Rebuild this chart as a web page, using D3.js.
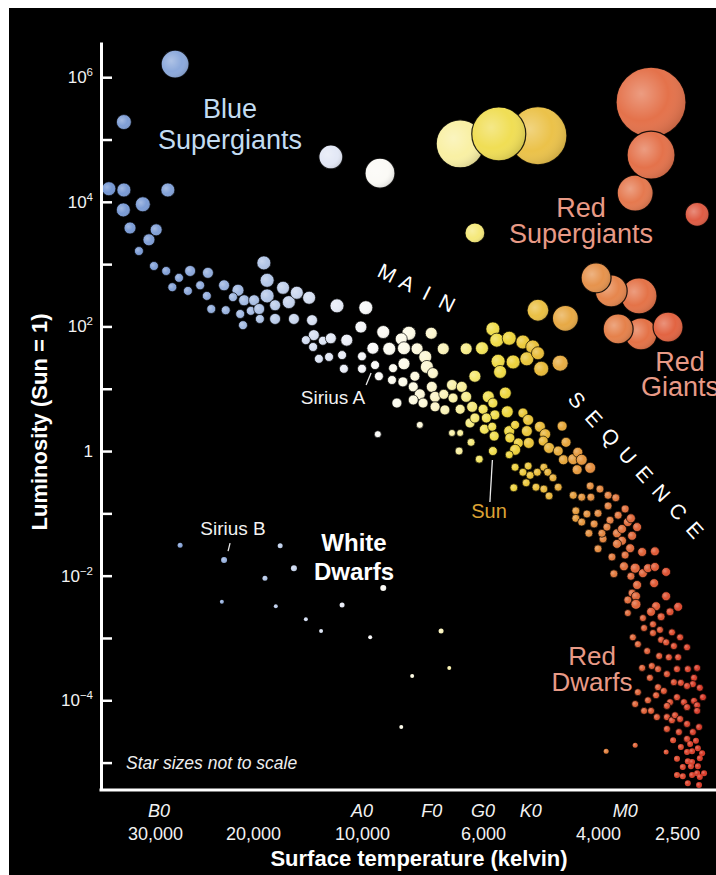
<!DOCTYPE html>
<html>
<head>
<meta charset="utf-8">
<script src="https://cdn.jsdelivr.net/npm/d3@7"></script>
<style>
  html, body { margin: 0; padding: 0; background: #fff; }
  svg { display: block; }
  text { font-family: "Liberation Sans", Arial, Helvetica, sans-serif; }
</style>
</head>
<body>
<svg id="chart" width="716" height="875"></svg>
<script>
// ---------------- data ----------------
// Temperature axis (kelvin) and spectral classes
const tempTicks = [30000, 20000, 10000, 6000, 4000, 2500];
const tempTickLabels = ["30,000", "20,000", "10,000", "6,000", "4,000", "2,500"];
const spectralClasses = ["B0", "A0", "F0", "G0", "K0", "M0"];
const spectralTemps = [29500, 10000, 7450, 6000, 5070, 3400];

// Luminosity axis: decades (exponents of 10), labelled every second one
const lumExponents = [-5, -4, -3, -2, -1, 0, 1, 2, 3, 4, 5, 6];
const lumLabelled = [6, 4, 2, 0, -2, -4];

// Stars: [log10 Teff (K), log10 L/Lsun, relative size]
const hotMainSequence = [
  [4.560,4.21,7],[4.533,4.19,7],[4.454,4.19,7],[4.534,3.87,7],[4.499,3.96,7.5],[4.522,3.58,6],
  [4.475,3.55,6],[4.488,3.39,6],[4.506,3.21,4.5],[4.479,2.97,4.5],[4.457,2.89,4.5],[4.434,2.78,4.5],
  [4.414,2.89,5.5],[4.382,2.86,5.5],[4.446,2.63,4.5],[4.418,2.57,4.5],[4.396,2.66,4.5],[4.384,2.49,4.5],
  [4.353,2.66,5.5],[4.376,2.28,4.5],[4.350,2.26,4.5],[4.328,2.58,6],[4.337,2.47,4.5],[4.317,2.42,5.5],
  [4.324,2.20,4.5],[4.319,2.02,4.5],[4.298,2.42,5.5],[4.305,2.25,4.5],[4.284,2.28,5.5],[4.282,2.12,4.5],
  [4.271,3.02,7],[4.262,2.74,7],[4.262,2.49,7],[4.240,2.34,5.5],[4.240,2.12,5.5],[4.218,2.62,6.5],
  [4.202,2.39,6.5],[4.180,2.54,6.5],[4.188,2.12,5.5],[4.146,2.46,6.5],[4.138,2.10,5.5],[4.133,1.86,5.5],
  [4.155,1.78,4.5],[4.135,1.67,4.5]
];
const midMainSequence = [
  [4.069,2.33,7],[3.993,2.30,7],[4.003,1.99,6],[3.961,1.91,6.5],[3.914,1.89,7],[3.873,1.89,6],
  [3.928,1.80,6],[4.108,1.77,4.5],[4.086,1.81,5.5],[4.042,1.78,6],[4.091,1.51,4.5],[4.119,1.48,4.5],
  [4.055,1.54,4.5],[4.050,1.32,4.5],[4.000,1.52,4.5],[3.980,1.65,6],[3.950,1.64,6.5],[3.923,1.65,6.5],
  [3.899,1.64,6],[3.884,1.51,6.5],[4.000,1.32,4.5],[3.969,1.20,4.5],[3.943,1.33,4.5],
  [3.923,1.40,6],[3.881,1.35,6.5],[3.851,1.64,6],[3.809,1.64,6],[3.780,1.65,6.5],[3.763,1.96,7],
  [3.757,1.78,7],[3.738,1.81,7],[3.717,1.75,7],[3.702,1.67,7],[3.755,1.44,7],[3.732,1.43,7],
  [3.711,1.48,7],[3.752,1.27,6.5],[3.689,1.32,7.5],[3.694,1.57,6.5],[3.945,1.14,4.5],[3.925,1.11,5],
  [3.906,1.03,5],[3.903,1.20,5],[3.870,1.25,5.5],[3.872,1.03,5.5],[3.894,0.91,5.5],[3.866,0.87,5.5],
  [3.850,0.91,5],[3.835,1.06,5.5],[3.817,1.03,5.5],[3.833,0.85,5],[3.809,0.87,5.5],[3.793,1.20,6],
  [3.906,0.82,5],[3.888,0.77,5],[3.866,0.71,5],[3.848,0.66,5],[3.936,0.77,5],[3.820,0.67,5],
  [3.798,0.71,5.5],[3.778,0.67,5],[3.770,0.87,6],[3.744,0.93,6],[3.763,0.77,5],[3.741,0.63,6],
  [3.760,0.58,5],[3.793,0.53,5],[3.773,0.53,5],[3.894,0.42,3.5],[3.971,0.27,3.5],[3.835,0.29,3.5],
  [3.820,0.29,3.5]
];
const coolMainSequence = [
  [3.802,0.45,5],[3.776,0.35,5],[3.764,0.39,4.5],[3.761,0.24,5],[3.800,0.14,4],[3.822,0.00,4],
  [3.785,-0.13,4],[3.738,0.32,5.5],[3.737,0.21,5],[3.729,0.42,4.5],[3.724,0.13,5],[3.729,0.02,5.5],
  [3.738,-0.06,4],[3.717,0.61,5],[3.709,0.50,5.5],[3.711,0.32,5.5],[3.708,0.13,5.5],[3.691,0.39,5.5],
  [3.683,0.27,5.5],[3.686,0.16,5],[3.677,0.05,5.5],[3.663,0.00,5],[3.657,0.40,5],[3.651,0.14,5],
  [3.655,-0.14,5],[3.640,-0.13,5.5],[3.633,-0.02,5],[3.627,-0.14,5.5],[3.634,-0.30,5],[3.614,-0.27,5.5],
  [3.729,-0.26,4],[3.709,-0.24,4],[3.717,-0.34,4],[3.706,-0.39,4],[3.695,-0.34,4],[3.685,-0.26,4],
  [3.679,-0.34,4],[3.671,-0.43,4],[3.712,-0.51,4],[3.697,-0.58,4],[3.685,-0.61,4],[3.677,-0.72,4],
  [3.663,-0.58,4],[3.731,-0.59,4],[3.640,-0.71,4],[3.627,-0.74,4],[3.613,-0.74,4],[3.614,-0.56,4],
  [3.597,-0.61,4],[3.576,-0.71,4],[3.556,-0.75,4],[3.576,-0.88,4],[3.532,-0.93,4],[3.550,-1.03,4],
  [3.571,-1.11,4],[3.636,-0.96,4],[3.636,-1.08,4],[3.627,-1.14,4],[3.619,-1.01,4],[3.602,-1.00,4],
  [3.608,-1.17,4],[3.616,-1.32,4],[3.592,-1.32,4],[3.579,-1.22,4]
];
const redDwarfs = [
  [3.589,-1.41,4],[3.553,-1.32,4.5],[3.540,-1.25,4.5],[3.525,-1.14,4.5],[3.517,-1.08,4.5],[3.501,-1.22,4.5],
  [3.514,-1.36,4.5],[3.540,-1.44,4.5],[3.553,-1.49,4.5],[3.602,-1.57,4],[3.519,-1.56,4.5],[3.566,-1.70,4],
  [3.532,-1.67,4],[3.488,-1.62,4.5],[3.455,-1.61,4.5],[3.535,-1.85,4.5],[3.506,-1.88,5],[3.486,-1.96,4.5],
  [3.473,-1.88,4.5],[3.455,-1.86,4.5],[3.426,-1.94,4.5],[3.561,-1.97,4],[3.517,-2.01,4],[3.501,-2.15,4.5],
  [3.457,-2.12,4.5],[3.514,-2.28,4],[3.504,-2.33,4.5],[3.525,-2.39,4],[3.504,-2.46,5],[3.525,-2.60,3.5],
  [3.452,-2.49,4.5],[3.426,-2.33,4.5],[3.395,-2.50,4.5],[3.465,-2.58,4.5],[3.439,-2.66,4],[3.416,-2.58,4],
  [3.486,-2.68,3.5],[3.483,-2.84,3.5],[3.460,-2.78,3.5],[3.442,-2.87,3.5],[3.411,-2.91,3.5],[3.390,-2.99,3.5],
  [3.372,-3.15,3.5],[3.512,-2.99,3.5],[3.460,-2.92,3.5],[3.439,-3.03,3.5],[3.426,-3.07,3.5],[3.406,-3.13,3.5],
  [3.499,-3.10,3.5],[3.475,-3.21,3.5],[3.444,-3.29,3.5],[3.419,-3.31,3.5],[3.395,-3.31,3.5],[3.488,-3.48,3.5],
  [3.463,-3.45,3.5],[3.447,-3.50,3.5],[3.424,-3.58,3.5],[3.398,-3.50,3.5],[3.370,-3.50,3.5],[3.346,-3.48,3.5],
  [3.468,-3.64,3.5],[3.406,-3.71,3.5],[3.388,-3.72,3.5],[3.354,-3.64,3.5],[3.357,-3.74,3.5],[3.372,-3.77,3.5],
  [3.339,-3.80,3.5],[3.499,-3.87,3.5],[3.447,-3.79,3.5],[3.432,-3.85,3.5],[3.398,-3.95,3.5],[3.452,-3.92,3.5],
  [3.473,-4.00,3.5],[3.506,-4.06,3.5],[3.416,-4.03,3.5],[3.424,-4.09,3.5],[3.380,-4.03,3.5],[3.372,-4.11,3.5],
  [3.354,-4.01,3.5],[3.346,-4.08,3.5],[3.331,-3.95,3.5],[3.346,-4.17,3.5],[3.483,-4.17,3.5],[3.465,-4.17,3.5],
  [3.450,-4.27,3.5],[3.424,-4.27,3.5],[3.411,-4.32,3.5],[3.403,-4.24,3.5],[3.390,-4.30,3.5],[3.372,-4.38,3.5],
  [3.424,-4.46,3.5],[3.393,-4.51,3.5],[3.357,-4.51,3.5],[3.341,-4.43,3.5],[3.408,-4.64,3],[3.372,-4.62,3.5],
  [3.349,-4.65,3],[3.388,-4.75,3],[3.364,-4.70,3],[3.359,-4.82,3],[3.344,-4.77,3],[3.333,-4.85,3],
  [3.372,-4.83,3],[3.398,-4.94,3],[3.370,-4.98,3],[3.359,-4.99,3],[3.339,-4.93,3],[3.383,-5.07,3],
  [3.362,-5.06,3],[3.344,-5.06,3],[3.328,-5.17,3],[3.398,-5.20,3],[3.383,-5.22,3],[3.359,-5.20,3],
  [3.346,-5.17,3],[3.339,-5.23,3],[3.370,-5.33,3],[3.341,-5.36,3],[3.426,-4.83,2.5],[3.506,-4.72,2.5],
  [3.581,-4.82,2.5]
];
const whiteDwarfs = [
  [4.432,-1.51,2.5],[4.226,-1.52,2.5],[4.268,-2.04,2.5],[4.188,-1.88,3],[4.357,-2.42,2],
  [4.238,-2.49,2],[4.155,-2.70,2],[4.113,-2.89,2],[4.055,-2.47,2.5],[3.961,-2.20,3],[3.985,-2.99,2],
  [3.855,-2.89,2.5],[3.840,-3.48,2],[3.908,-3.61,2],[3.928,-4.43,2]
];
const giants = [
  [3.694,2.26,11],[3.652,2.13,13],[3.660,1.41,8]
];
const redGiants = [
  [3.491,1.88,16],[3.550,1.96,15],[3.421,1.99,15],[3.496,2.49,18],[3.568,2.57,16],[3.605,2.78,15]
];
const blueSupergiants = [
  [4.441,6.21,14],[4.533,5.28,7.5],[4.086,4.72,12],[3.967,4.46,15]
];
const yellowSupergiants = [
  [3.793,3.50,10],[3.820,4.93,24],[3.694,5.06,29],[3.754,5.09,27]
];
const redSupergiants = [
  [3.465,5.60,35],[3.506,4.14,18],[3.465,4.75,24],[3.346,3.80,12]
];
// Named stars with leader labels
const namedStars = [
  { name: "Sirius A", logT: 3.976, logL: 1.38, size: 4.5 },
  { name: "Sun",      logT: 3.763, logL: 0.00, size: 4.5 },
  { name: "Sirius B", logT: 4.353, logL: -1.75, size: 3 }
];

// ---------------- layout & scales ----------------
const W = 716, H = 875;
const plot = { left: 101, right: 716, top: 42, bottom: 790 };
// Temperature axis runs along the spectral sequence: one log segment between each labelled temperature
const tempTickX = [155, 253, 362, 483, 598, 677];

const x = d3.scaleLog().domain(tempTicks).range(tempTickX);
const y = d3.scaleLog().domain([Math.pow(10, -5.44), Math.pow(10, 6.565)]).range([plot.bottom, plot.top]);
const rScale = d3.scaleLinear().domain([0, 35]).range([0, 35]);

// Star colour by temperature
const colourStopsT = [4.56, 4.45, 4.35, 4.25, 4.15, 4.05, 3.98, 3.92, 3.87, 3.82, 3.78, 3.74, 3.70, 3.66, 3.62, 3.57, 3.52, 3.46, 3.40, 3.34];
const colourStopsC = ["#7597d3","#84a2d8","#9ab3df","#b8cae9","#d3ddf1","#e9edf7","#fafafa","#fdfbe8","#fcf6cc","#f8ef9c",
                      "#f2e35a","#eed63c","#e9c03a","#e6a93a","#e4913e","#e27c3e","#e0693a","#df5a34","#dc4a2e","#d83a28"];
const colour = d3.scaleLinear().domain(colourStopsT).range(colourStopsC).interpolate(d3.interpolateRgb).clamp(true);

const svg = d3.select("#chart");
svg.append("rect").attr("x", 9).attr("y", 8).attr("width", W - 9).attr("height", H - 8).attr("fill", "#000");

const defs = svg.append("defs");
const shade = defs.append("radialGradient").attr("id", "shade").attr("cx", "0.36").attr("cy", "0.38").attr("r", "0.7");
shade.append("stop").attr("offset", "0").attr("stop-color", "#fff").attr("stop-opacity", 0.3);
shade.append("stop").attr("offset", "0.55").attr("stop-color", "#fff").attr("stop-opacity", 0);
shade.append("stop").attr("offset", "1").attr("stop-color", "#000").attr("stop-opacity", 0.16);

const starLayer = svg.append("g");

// tint: [mix colour, amount] blended into the temperature colour for large, diffuse stars
function drawStars(data, cls, tint) {
  const g = starLayer.append("g").attr("class", cls);
  const pts = data.map(d => ({
    cx: x(Math.pow(10, d[0])),
    cy: y(Math.pow(10, d[1])),
    r: rScale(d[2]),
    c: tint ? d3.interpolateRgb(colour(d[0]), tint[0])(tint[1]) : colour(d[0])
  }));
  const s = g.selectAll("g").data(pts).join("g");
  s.append("circle").attr("cx", p => p.cx).attr("cy", p => p.cy).attr("r", p => p.r).attr("fill", p => p.c);
  s.append("circle").attr("cx", p => p.cx).attr("cy", p => p.cy).attr("r", p => p.r)
    .attr("fill", "url(#shade)")
    .attr("stroke", p => p.r >= 3.5 ? "#000" : "none")
    .attr("stroke-opacity", 0.85)
    .attr("stroke-width", p => p.r >= 10 ? 1.2 : 0.8);
}

drawStars(whiteDwarfs, "white-dwarfs");
drawStars(redDwarfs, "red-dwarfs");
drawStars(coolMainSequence, "cool-ms");
drawStars(midMainSequence, "mid-ms");
drawStars(hotMainSequence, "hot-ms");
drawStars(namedStars.map(s => [s.logT, s.logL, s.size]), "named");
drawStars(giants, "giants", ["#ffffff", 0.05]);
drawStars(redGiants, "red-giants", ["#f4b488", 0.2]);
drawStars(blueSupergiants, "blue-sg", ["#ffffff", 0.05]);
drawStars(yellowSupergiants, "yellow-sg", ["#ffffff", 0.08]);
drawStars(redSupergiants, "red-sg", ["#f0a882", 0.3]);

// ---------------- axes ----------------
const yAxis = d3.axisRight(y)
  .tickValues(lumExponents.map(e => Math.pow(10, e)))
  .tickSize(11).tickSizeOuter(0).tickFormat("");
const yg = svg.append("g").attr("transform", `translate(${plot.left},0)`).call(yAxis);
yg.select(".domain").attr("stroke", "#fff").attr("stroke-width", 3);
yg.selectAll(".tick line").attr("stroke", "#fff").attr("stroke-width", 2.5);

// y tick labels with superscript exponents
const ylab = svg.append("g").attr("fill", "#f2f2f2");
lumLabelled.forEach(e => {
  const t = ylab.append("text").attr("x", plot.left - 8).attr("y", y(Math.pow(10, e)) + 6)
    .attr("text-anchor", "end").attr("font-size", 17);
  if (e === 0) { t.text("1"); return; }
  t.append("tspan").text("10");
  t.append("tspan").attr("font-size", 11.5).attr("dy", -7).text(e < 0 ? "\u2212" + (-e) : String(e));
});

// x axis baseline
svg.append("line").attr("x1", plot.left - 1.5).attr("x2", plot.right).attr("y1", plot.bottom).attr("y2", plot.bottom)
  .attr("stroke", "#fff").attr("stroke-width", 3);

const xAxis = d3.axisBottom(x).tickValues(tempTicks).tickSize(0)
  .tickFormat((d, i) => tempTickLabels[i]);
const xg = svg.append("g").attr("transform", `translate(0,${plot.bottom})`).call(xAxis);
xg.select(".domain").remove();
xg.selectAll(".tick text").attr("fill", "#f2f2f2").attr("font-size", 18)
  .attr("font-family", '"Liberation Sans", Arial, sans-serif').attr("dy", 0).attr("y", 50);

// spectral class row
svg.append("g").selectAll("text").data(spectralClasses).join("text")
  .attr("x", (d, i) => x(spectralTemps[i])).attr("y", 817)
  .attr("text-anchor", "middle").attr("font-size", 18).attr("font-style", "italic")
  .attr("fill", "#f2f2f2").text(d => d);

// axis titles
svg.append("text").attr("x", 419).attr("y", 866).attr("text-anchor", "middle")
  .attr("font-size", 22).attr("font-weight", "bold").attr("fill", "#fff")
  .text("Surface temperature (kelvin)");
svg.append("text").attr("transform", "translate(47,422) rotate(-90)").attr("text-anchor", "middle")
  .attr("font-size", 22).attr("font-weight", "bold").attr("fill", "#fff")
  .text("Luminosity (Sun = 1)");

// ---------------- annotations ----------------
const ann = svg.append("g");
// multi-line label as one text element with stacked tspans
function label(lines, cx, y0, lh, opts) {
  const t = ann.append("text").attr("x", cx).attr("y", y0).attr("text-anchor", "middle")
    .attr("font-size", opts.size).attr("font-weight", opts.weight || "normal")
    .attr("font-style", opts.style || "normal").attr("fill", opts.fill);
  lines.forEach((s, i) => {
    t.append("tspan").attr("x", cx).attr("dy", i === 0 ? 0 : lh).text(s);
  });
}
label(["Blue", "Supergiants"], 230, 118, 31, { size: 27, fill: "#c3dcf2" });
label(["Red", "Supergiants"], 581, 217, 26, { size: 27, fill: "#e89a86" });
label(["Red", "Giants"], 680, 371, 25, { size: 27, fill: "#e89a86" });
label(["Red", "Dwarfs"], 592, 665, 26, { size: 26, fill: "#e89a86" });
label(["White", "Dwarfs"], 354, 551, 29, { size: 24, weight: "bold", fill: "#fff" });

ann.append("text").attr("x", 126).attr("y", 769).attr("font-size", 17.5).attr("font-style", "italic")
  .attr("fill", "#eee").text("Star sizes not to scale");

// "MAIN SEQUENCE" spaced along the band
function spaced(word, x0, y0, x1, y1, size) {
  const ang = Math.atan2(y1 - y0, x1 - x0) * 180 / Math.PI;
  const n = word.length;
  word.split("").forEach((ch, i) => {
    const px = x0 + (x1 - x0) * i / (n - 1), py = y0 + (y1 - y0) * i / (n - 1);
    ann.append("text").attr("transform", `translate(${px},${py}) rotate(${ang})`)
      .attr("text-anchor", "middle").attr("dy", "0.35em").attr("font-size", size)
      .attr("fill", "#fff").text(ch);
  });
}
spaced("MAIN", 387, 273, 447, 303, 21);
spaced("SEQUENCE", 577, 400, 695, 530, 21);

// named-star labels with leader lines
const byName = Object.fromEntries(namedStars.map(s => [s.name, { sx: x(Math.pow(10, s.logT)), sy: y(Math.pow(10, s.logL)) }]));
function leader(name, dx1, dy1, dx2, dy2, colour) {
  const p = byName[name];
  ann.append("line").attr("x1", p.sx + dx1).attr("y1", p.sy + dy1).attr("x2", p.sx + dx2).attr("y2", p.sy + dy2)
    .attr("stroke", colour).attr("stroke-width", 1.3);
}
leader("Sirius A", -9, 20, -4, 8, "#e8e8e8");
leader("Sun", -3, 51, -0.5, 9, "#e8e8e8");
leader("Sirius B", 4, -9, 6, -17, "#e8e8e8");
label(["Sirius A"], 333, 404, 0, { size: 19, fill: "#f2f2f2" });
label(["Sirius B"], 233, 535, 0, { size: 19, fill: "#f2f2f2" });
label(["Sun"], 489, 518, 0, { size: 20, fill: "#dca234" });
</script>
</body>
</html>
